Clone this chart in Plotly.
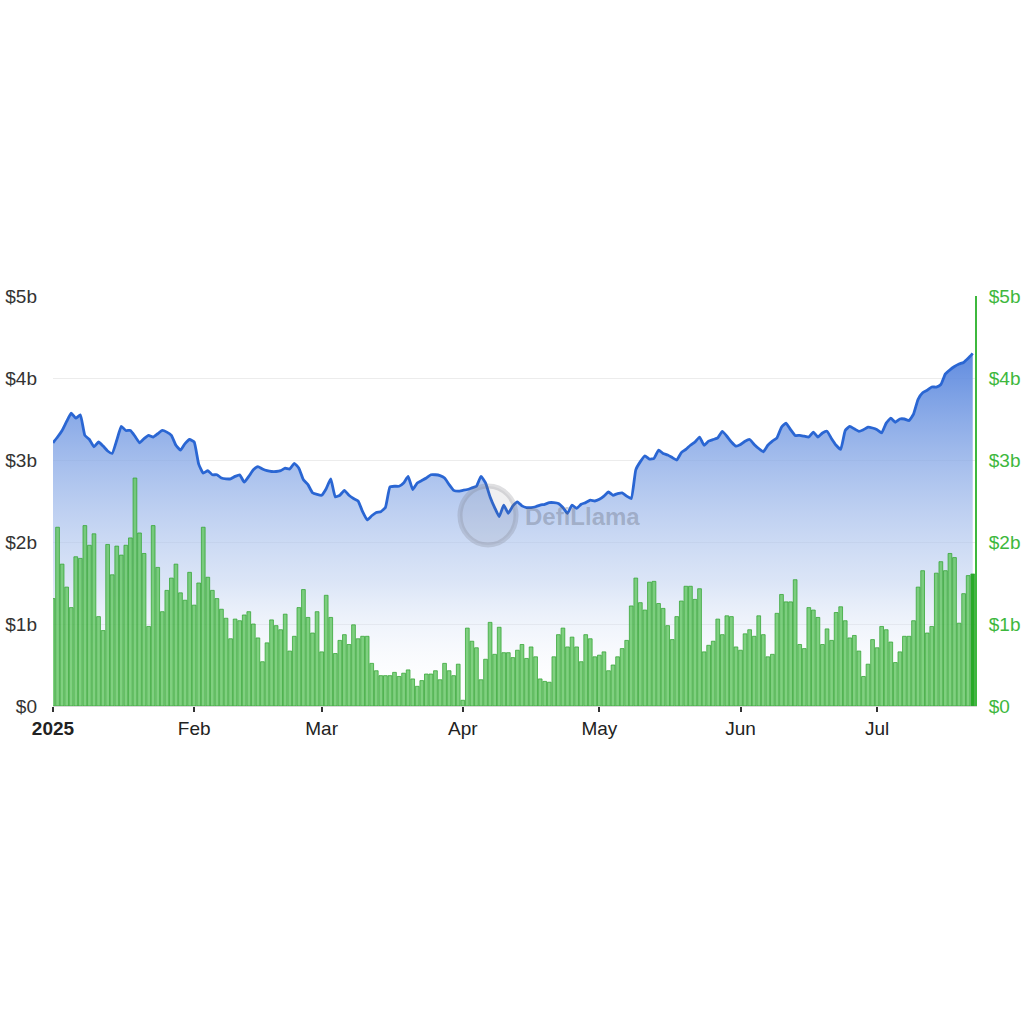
import pandas as pd
import plotly.graph_objects as go

# Daily TVL (left axis, $b)
tvl = [
    3.21, 3.28, 3.36, 3.47, 3.57, 3.51, 3.55, 3.30, 3.25, 3.16,
    3.22, 3.17, 3.11, 3.08, 3.24, 3.41, 3.36, 3.36, 3.29, 3.21,
    3.26, 3.30, 3.28, 3.32, 3.36, 3.34, 3.30, 3.18, 3.12, 3.20,
    3.25, 3.22, 2.95, 2.84, 2.87, 2.82, 2.82, 2.78, 2.77, 2.77,
    2.80, 2.82, 2.73, 2.80, 2.88, 2.92, 2.89, 2.87, 2.86, 2.86,
    2.87, 2.90, 2.89, 2.96, 2.90, 2.76, 2.70, 2.60, 2.58, 2.57,
    2.65, 2.77, 2.55, 2.57, 2.63, 2.57, 2.53, 2.50, 2.37, 2.27,
    2.32, 2.36, 2.37, 2.42, 2.67, 2.68, 2.68, 2.72, 2.80, 2.64,
    2.72, 2.75, 2.78, 2.82, 2.82, 2.81, 2.78, 2.70, 2.63, 2.62,
    2.63, 2.64, 2.66, 2.68, 2.80, 2.72, 2.55, 2.42, 2.31, 2.45,
    2.35, 2.44, 2.49, 2.44, 2.42, 2.42, 2.43, 2.45, 2.46, 2.48,
    2.48, 2.47, 2.42, 2.35, 2.45, 2.41, 2.46, 2.48, 2.51, 2.50,
    2.52, 2.56, 2.61, 2.57, 2.59, 2.60, 2.56, 2.53, 2.88, 2.98,
    3.05, 3.01, 3.02, 3.12, 3.08, 3.06, 3.03, 3.00, 3.09, 3.13,
    3.18, 3.22, 3.28, 3.18, 3.23, 3.25, 3.27, 3.35, 3.29, 3.22,
    3.17, 3.19, 3.23, 3.25, 3.19, 3.14, 3.10, 3.18, 3.23, 3.27,
    3.40, 3.45, 3.37, 3.30, 3.30, 3.29, 3.28, 3.34, 3.28, 3.33,
    3.35, 3.26, 3.18, 3.13, 3.36, 3.41, 3.38, 3.35, 3.37, 3.40,
    3.39, 3.37, 3.33, 3.45, 3.51, 3.46, 3.50, 3.50, 3.48, 3.56,
    3.74, 3.82, 3.85, 3.89, 3.89, 3.92, 4.05, 4.10, 4.14, 4.17,
    4.19, 4.24, 4.30,
]

# Daily volume (right axis, $b)
volume = [
    1.31, 2.18, 1.73, 1.45, 1.20, 1.82, 1.80, 2.20, 1.96, 2.10,
    1.09, 0.92, 1.97, 1.60, 1.95, 1.84, 1.96, 2.05, 2.78, 2.11,
    1.86, 0.97, 2.20, 1.69, 1.15, 1.41, 1.56, 1.73, 1.38, 1.29,
    1.63, 1.23, 1.50, 2.18, 1.57, 1.41, 1.31, 1.18, 1.07, 0.82,
    1.06, 1.04, 1.11, 1.15, 1.00, 0.83, 0.54, 0.77, 1.05, 0.98,
    0.93, 1.12, 0.67, 0.85, 1.20, 1.42, 1.08, 0.89, 1.15, 0.66,
    1.35, 1.08, 0.64, 0.80, 0.87, 0.75, 0.99, 0.82, 0.85, 0.85,
    0.52, 0.43, 0.37, 0.37, 0.37, 0.41, 0.36, 0.40, 0.44, 0.33,
    0.24, 0.31, 0.39, 0.39, 0.43, 0.32, 0.52, 0.43, 0.37, 0.51,
    0.07, 0.95, 0.79, 0.71, 0.32, 0.57, 1.02, 0.63, 0.96, 0.65,
    0.65, 0.59, 0.68, 0.75, 0.58, 0.72, 0.60, 0.33, 0.30, 0.29,
    0.60, 0.87, 0.95, 0.72, 0.84, 0.72, 0.54, 0.87, 0.82, 0.60,
    0.62, 0.66, 0.43, 0.50, 0.60, 0.70, 0.80, 1.22, 1.56, 1.26,
    1.17, 1.51, 1.52, 1.25, 1.19, 0.98, 0.81, 1.09, 1.28, 1.46,
    1.46, 1.30, 1.43, 0.66, 0.74, 0.79, 1.06, 0.87, 1.10, 1.09,
    0.72, 0.68, 0.88, 0.93, 0.85, 1.10, 0.87, 0.60, 0.63, 1.13,
    1.36, 1.27, 1.27, 1.54, 0.75, 0.70, 1.20, 1.17, 1.08, 0.75,
    0.94, 0.80, 1.14, 1.21, 1.04, 0.83, 0.86, 0.67, 0.36, 0.51,
    0.81, 0.71, 0.97, 0.93, 0.78, 0.53, 0.66, 0.85, 0.85, 1.04,
    1.45, 1.65, 0.89, 0.97, 1.62, 1.76, 1.65, 1.86, 1.81, 1.01,
    1.37, 1.59, 1.61,
]

start_date = "2025-01-01"
n = min(len(tvl), len(volume))
dates = pd.date_range(start_date, periods=n, freq="D")

tick_vals = ["2025-01-01", "2025-02-01", "2025-03-01", "2025-04-01",
             "2025-05-01", "2025-06-01", "2025-07-01"]
tick_text = ["<b>2025</b>", "Feb", "Mar", "Apr", "May", "Jun", "Jul"]
y_tick_vals = [0, 1, 2, 3, 4, 5]
y_tick_text = ["$0", "$1b", "$2b", "$3b", "$4b", "$5b"]

FONT = "Liberation Sans, Arial, sans-serif"
GREEN = "#3db83d"
FS = 19

bar_colors = ["rgba(100,198,100,0.82)"] * (n - 1) + ["rgba(40,170,40,1)"]

fig = go.Figure()

fig.add_trace(go.Scatter(
    x=dates, y=tvl[:n], mode="lines",
    line=dict(color="#2a66d3", width=2.8, shape="spline", smoothing=0.4),
    fill="tozeroy",
    fillgradient=dict(
        type="vertical", start=0, stop=max(tvl),
        colorscale=[[0, "rgba(255,255,255,0.0)"],
                    [0.35, "rgba(190,208,240,0.55)"],
                    [1, "rgba(88,134,222,0.95)"]],
    ),
    yaxis="y", showlegend=False, hoverinfo="skip",
))

fig.add_trace(go.Bar(
    x=dates, y=volume[:n], yaxis="y2",
    marker=dict(color=bar_colors,
                line=dict(color="rgba(50,165,50,0.95)", width=0.8)),
    showlegend=False, hoverinfo="skip",
))

# watermark
fig.add_annotation(
    x=(523 - 53) / 922, y=(706 - 516) / 410, xref="paper", yref="paper",
    text="<b>DefiLlama</b>", showarrow=False,
    font=dict(family=FONT, size=24, color="rgba(90,95,110,0.33)"),
    xanchor="left", yanchor="middle",
)
fig.add_shape(
    type="circle", xref="paper", yref="paper",
    x0=(460 - 53) / 922, x1=(516 - 53) / 922,
    y0=(706 - 545) / 410, y1=(706 - 486) / 410,
    line=dict(color="rgba(110,110,120,0.22)", width=5),
    fillcolor="rgba(110,110,120,0.10)",
)

fig.update_layout(
    width=1024, height=1024,
    margin=dict(l=53, r=49, t=296, b=318, autoexpand=False),
    paper_bgcolor="white", plot_bgcolor="white",
    font=dict(family=FONT, size=FS, color="#333333"),
    bargap=0.18,
    xaxis=dict(
        type="date", automargin=False,
        range=["2025-01-01", "2025-07-22 12:00"],
        tickvals=tick_vals, ticktext=tick_text,
        ticks="outside", ticklen=5, tickwidth=2, tickcolor="#333333",
        showgrid=False, showline=True, linecolor="#d8d8d8", linewidth=1,
        tickfont=dict(size=FS, color="#222222"),
        zeroline=False,
    ),
    yaxis=dict(
        range=[0, 5], tickvals=y_tick_vals, ticktext=y_tick_text,
        automargin=False,
        showgrid=True, gridcolor="#ececec", gridwidth=1,
        zeroline=False, showline=False,
        tickfont=dict(size=FS, color="#333333"),
        ticklabelstandoff=15,
    ),
    yaxis2=dict(
        range=[0, 5], tickvals=y_tick_vals, ticktext=y_tick_text,
        automargin=False,
        overlaying="y", side="right", showgrid=False, zeroline=False,
        showline=True, linecolor=GREEN, linewidth=2,
        tickfont=dict(size=FS, color=GREEN),
        ticklabelstandoff=8,
    ),
)

fig.write_html("out.html")
